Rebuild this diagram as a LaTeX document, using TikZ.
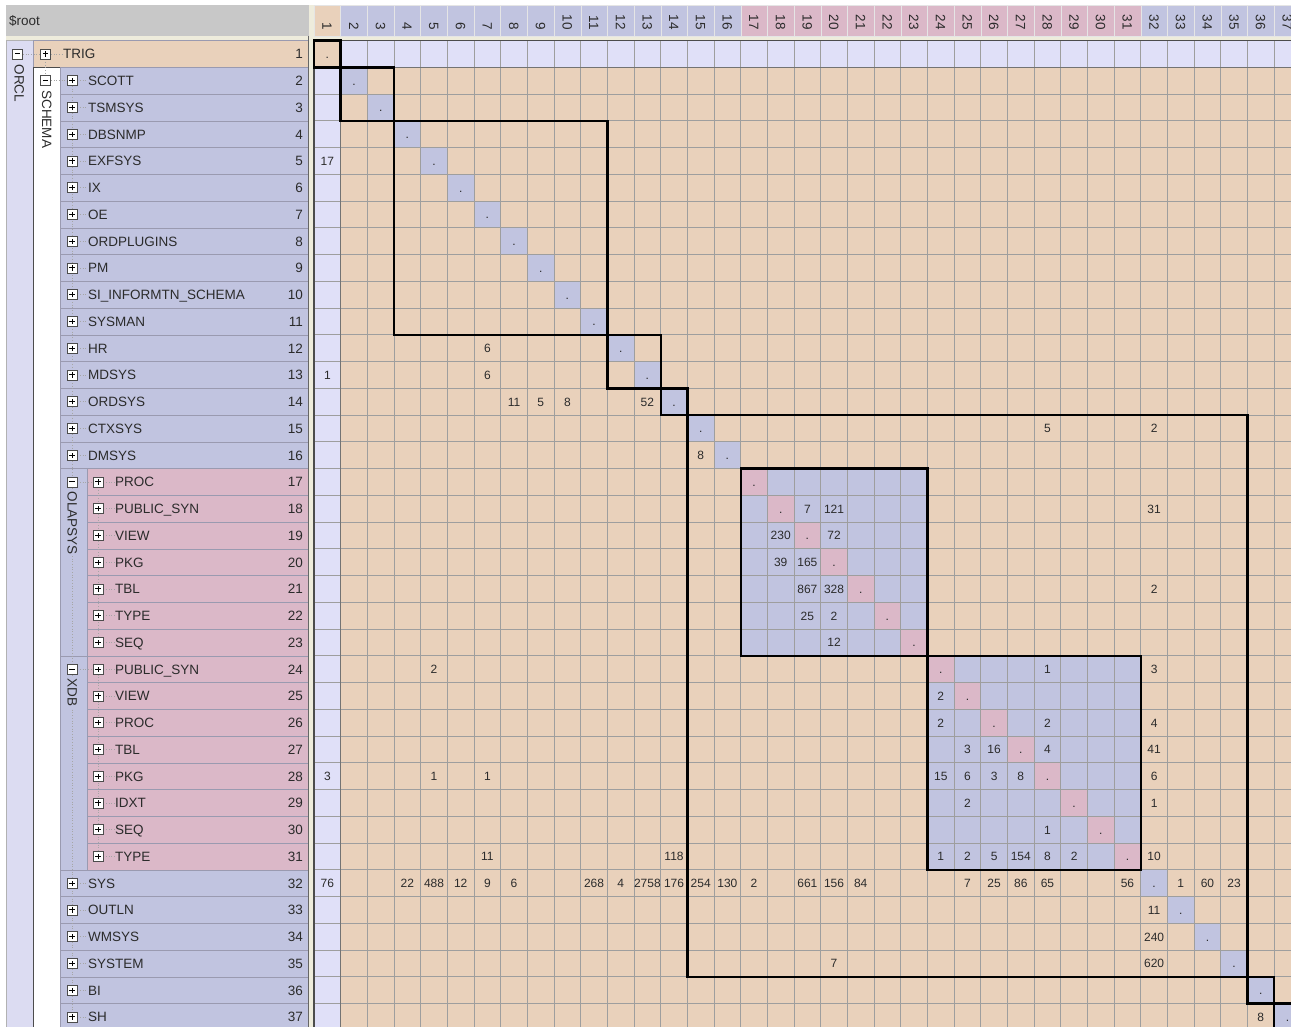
\documentclass[tikz,border=0pt]{standalone}
\usepackage{fontspec}
\setmainfont{Liberation Sans}
\pgfdeclarelayer{bg}
\pgfdeclarelayer{lines}
\pgfsetlayers{bg,lines,main}
\definecolor{peach}{HTML}{E9D1BB}
\definecolor{lav}{HTML}{C1C4E0}
\definecolor{lightlav}{HTML}{E0E0F8}
\definecolor{pinkc}{HTML}{DBB8C8}
\definecolor{hdrgrey}{HTML}{C8C8C8}
\definecolor{cream}{HTML}{EEECDC}
\definecolor{gridc}{HTML}{9E9E9E}
\definecolor{orclc}{HTML}{DCDCF2}
\definecolor{rowsep}{HTML}{9A9AB0}
\definecolor{txt}{HTML}{2B2B2B}
\tikzset{
  lbl/.style={anchor=west, font=\fontsize{13.5}{15}\selectfont, text=txt, inner sep=0pt, text height=9.7pt, text depth=0pt},
  rownum/.style={anchor=east, font=\fontsize{13.5}{15}\selectfont, text=txt, inner sep=0pt, text height=9.7pt, text depth=0pt},
  num/.style={font=\fontsize{12}{14}\selectfont, text=txt, inner sep=0pt, text height=8.6pt, text depth=0pt},
  colnum/.style={rotate=-90, anchor=east, font=\fontsize{13.5}{15}\selectfont, text=txt, inner sep=0pt, text height=9.7pt, text depth=0pt},
  grp/.style={rotate=-90, anchor=west, font=\fontsize{13.5}{15}\selectfont, text=txt, inner sep=1.5pt, text height=9.7pt, text depth=0pt},
  blk/.style={draw=black, line width=2.4pt},
  orclbox/.style={draw=black!70, line width=1.5pt},
  schemabox/.style={draw=black!55, line width=1.1pt},
  gridl/.style={draw=gridc, line width=0.9pt},
  tree/.style={draw=gray!70, dotted, line width=0.7pt},
  pbox/.style={draw=gray!60!black, fill=white, minimum size=10pt, inner sep=0pt, line width=0.6pt,
    path picture={\draw[black, line width=1pt]
      ([xshift=-2.6pt]path picture bounding box.center) -- ([xshift=2.6pt]path picture bounding box.center)
      ([yshift=-2.6pt]path picture bounding box.center) -- ([yshift=2.6pt]path picture bounding box.center);}},
  mbox/.style={draw=gray!60!black, fill=white, minimum size=10pt, inner sep=0pt, line width=0.6pt,
    path picture={\draw[black, line width=1pt]
      ([xshift=-2.6pt]path picture bounding box.center) -- ([xshift=2.6pt]path picture bounding box.center);}}
}
\begin{document}
\begin{tikzpicture}[x=1pt,y=-1pt]
\def\CW{26.67}\def\RH{26.75}\def\XO{314}\def\YO{40.6}
\useasboundingbox (0,0) rectangle (1291,1027);
\clip (0,0) rectangle (1291,1027);

% ---------- background and left panel fills ----------
\begin{pgfonlayer}{bg}
\fill[cream] (0,0) rectangle (1291,1027);
\fill[white] (0,0) rectangle (1291,5);
\fill[white] (0,0) rectangle (6,1027);
\fill[hdrgrey] (6,5) rectangle (309,36);
\filldraw[fill=orclc, draw=gray!60] (6,40.6) rectangle (33,1040);
\filldraw[fill=peach, draw=rowsep] (33,40.6) rectangle (308,{\YO+\RH});
\filldraw[fill=white, draw=black!70] (33,{\YO+\RH}) rectangle (60,1040);
\foreach \i in {2,...,16} {
  \filldraw[fill=lav, draw=rowsep] (60,{\YO+(\i-1)*\RH}) rectangle (308,{\YO+\i*\RH});
}
\foreach \i in {32,...,37} {
  \filldraw[fill=lav, draw=rowsep] (60,{\YO+(\i-1)*\RH}) rectangle (308,{\YO+\i*\RH});
}
\foreach \i in {17,...,31} {
  \filldraw[fill=pinkc, draw=rowsep] (87,{\YO+(\i-1)*\RH}) rectangle (308,{\YO+\i*\RH});
}
\filldraw[fill=lav, draw=rowsep] (60,{\YO+16*\RH}) rectangle (87,{\YO+23*\RH});
\filldraw[fill=lav, draw=rowsep] (60,{\YO+23*\RH}) rectangle (87,{\YO+31*\RH});
\draw[black!60, line width=1pt] (308,36) -- (308,1030);
\end{pgfonlayer}

% ---------- left panel nodes ----------
\node[anchor=west, font=\fontsize{13.5}{15}\selectfont, text=txt, inner sep=0pt] (root) at (9,20.5) {\$root};

\node[mbox] (om) at (17.5,54) {};
\node[grp, fill=orclc] (orcl) at (19.5,63) {ORCL};
\node[pbox] (p-1) at (45.5,54) {};
\node[lbl] (l-1) at (63,54) {TRIG};
\node[rownum] (n-1) at (303,54) {1};
\node[mbox] (sm) at (45.5,{\YO+1.5*\RH}) {};
\node[grp, fill=white] (schema) at (47,{\YO+1.5*\RH+8}) {SCHEMA};

\foreach \i/\n in {2/SCOTT,3/TSMSYS,4/DBSNMP,5/EXFSYS,6/IX,7/OE,8/ORDPLUGINS,9/PM,10/SI\_INFORMTN\_SCHEMA,11/SYSMAN,12/HR,13/MDSYS,14/ORDSYS,15/CTXSYS,16/DMSYS,32/SYS,33/OUTLN,34/WMSYS,35/SYSTEM,36/BI,37/SH} {
  \node[pbox] (p-\i) at (72,{\YO+(\i-0.5)*\RH}) {};
  \node[lbl] (l-\i) at (88,{\YO+(\i-0.5)*\RH}) {\n};
  \node[rownum] (n-\i) at (303,{\YO+(\i-0.5)*\RH}) {\i};
}
\node[mbox] (gm-olap) at (72,{\YO+16.5*\RH}) {};
\node[grp, fill=lav] (olap) at (72.5,{\YO+16.5*\RH+8}) {OLAPSYS};
\node[mbox] (gm-xdb) at (72,{\YO+23.5*\RH}) {};
\node[grp, fill=lav] (xdb) at (72.5,{\YO+23.5*\RH+8}) {XDB};
\foreach \i/\n in {17/PROC,18/PUBLIC\_SYN,19/VIEW,20/PKG,21/TBL,22/TYPE,23/SEQ,24/PUBLIC\_SYN,25/VIEW,26/PROC,27/TBL,28/PKG,29/IDXT,30/SEQ,31/TYPE} {
  \node[pbox] (p-\i) at (98,{\YO+(\i-0.5)*\RH}) {};
  \node[lbl] (l-\i) at (115,{\YO+(\i-0.5)*\RH}) {\n};
  \node[rownum] (n-\i) at (303,{\YO+(\i-0.5)*\RH}) {\i};
}

% ---------- tree dotted connectors ----------
\begin{pgfonlayer}{lines}
\draw[tree] (om.east) -- (p-1.west);
\draw[tree] (p-1.south) -- (sm.north);
\draw[tree] (sm.east) -- (p-2.west);
\draw[tree] (p-2.south) -- (p-37.north);
\draw[tree] (gm-olap.east) -- (p-17.west);
\draw[tree] (gm-xdb.east) -- (p-24.west);
\draw[tree] (p-17.south) -- (p-23.north);
\draw[tree] (p-24.south) -- (p-31.north);
\foreach \i in {1,...,37} {
  \draw[tree] (p-\i.east) -- (l-\i.west);
}
\end{pgfonlayer}

% ---------- column header ----------
\foreach \a/\b/\c in {1/1/peach,2/16/lav,17/31/pinkc,32/37/lav} {
  \foreach \j in {\a,...,\b} {
    \draw[fill=\c, draw=white!80!gray] ({\XO+(\j-1)*\CW},5) rectangle ({\XO+\j*\CW},36);
    \node[colnum] (h-\j) at ({\XO+(\j-0.5)*\CW},30) {\j};
  }
}

% ---------- matrix fills ----------
\fill[lightlav] (\XO,\YO) rectangle (1300,{\YO+\RH});
\fill[lightlav] (\XO,{\YO+\RH}) rectangle ({\XO+\CW},1040);
\fill[peach] ({\XO+\CW},{\YO+\RH}) rectangle (1300,1040);
\fill[peach] (\XO,\YO) rectangle ({\XO+\CW},{\YO+\RH});
\fill[lav] ({\XO+16*\CW},{\YO+16*\RH}) rectangle ({\XO+23*\CW},{\YO+23*\RH});
\fill[lav] ({\XO+23*\CW},{\YO+23*\RH}) rectangle ({\XO+31*\CW},{\YO+31*\RH});
\foreach \i in {2,...,16,32,33,34,35,36,37} {
  \fill[lav] ({\XO+(\i-1)*\CW},{\YO+(\i-1)*\RH}) rectangle ({\XO+\i*\CW},{\YO+\i*\RH});
}
\foreach \i in {17,...,31} {
  \fill[pinkc] ({\XO+(\i-1)*\CW},{\YO+(\i-1)*\RH}) rectangle ({\XO+\i*\CW},{\YO+\i*\RH});
}

% ---------- grid ----------
\foreach \j in {0,...,37} {
  \draw[gridl] ({\XO+\j*\CW},\YO) -- ({\XO+\j*\CW},1040);
}
\foreach \i in {0,...,37} {
  \draw[gridl] (\XO,{\YO+\i*\RH}) -- (1300,{\YO+\i*\RH});
}

% ---------- diagonal dots and values ----------
\foreach \i in {1,...,37} {
  \node[num] (d-\i) at ({\XO+(\i-0.5)*\CW},{\YO+(\i-0.5)*\RH}) {.};
}
\foreach \r/\c/\v in {5/1/17, 12/7/6, 13/1/1, 13/7/6, 14/8/11, 14/9/5, 14/10/8, 14/13/52, 15/28/5, 15/32/2, 16/15/8,
  18/19/7, 18/20/121, 18/32/31, 19/18/230, 19/20/72, 20/18/39, 20/19/165, 21/19/867, 21/20/328, 21/32/2,
  22/19/25, 22/20/2, 23/20/12, 24/5/2, 24/28/1, 24/32/3, 25/24/2, 26/24/2, 26/28/2, 26/32/4,
  27/25/3, 27/26/16, 27/28/4, 27/32/41, 28/1/3, 28/5/1, 28/7/1, 28/24/15, 28/25/6, 28/26/3, 28/27/8, 28/32/6,
  29/25/2, 29/32/1, 30/28/1, 31/7/11, 31/14/118, 31/24/1, 31/25/2, 31/26/5, 31/27/154, 31/28/8, 31/29/2, 31/32/10,
  32/1/76, 32/4/22, 32/5/488, 32/6/12, 32/7/9, 32/8/6, 32/11/268, 32/12/4, 32/13/2758, 32/14/176, 32/15/254,
  32/16/130, 32/17/2, 32/19/661, 32/20/156, 32/21/84, 32/25/7, 32/26/25, 32/27/86, 32/28/65, 32/31/56,
  32/33/1, 32/34/60, 32/35/23, 33/32/11, 34/32/240, 35/20/7, 35/32/620, 37/36/8} {
  \node[num] (m-\r-\c) at ({\XO+(\c-0.5)*\CW},{\YO+(\r-0.5)*\RH}) {\v};
}

% ---------- block outlines ----------
\draw[orclbox] (\XO,\YO) rectangle ({\XO+37*\CW},{\YO+37*\RH});
\draw[schemabox] ({\XO+\CW},{\YO+\RH}) rectangle ({\XO+37*\CW},{\YO+37*\RH});
\foreach \a/\b in {1/1,2/3,4/11,12/13,14/14,15/35,17/23,24/31,36/36,37/37} {
  \draw[blk] ({\XO+(\a-1)*\CW},{\YO+(\a-1)*\RH}) rectangle ({\XO+\b*\CW},{\YO+\b*\RH});
}
\end{tikzpicture}
\end{document}
